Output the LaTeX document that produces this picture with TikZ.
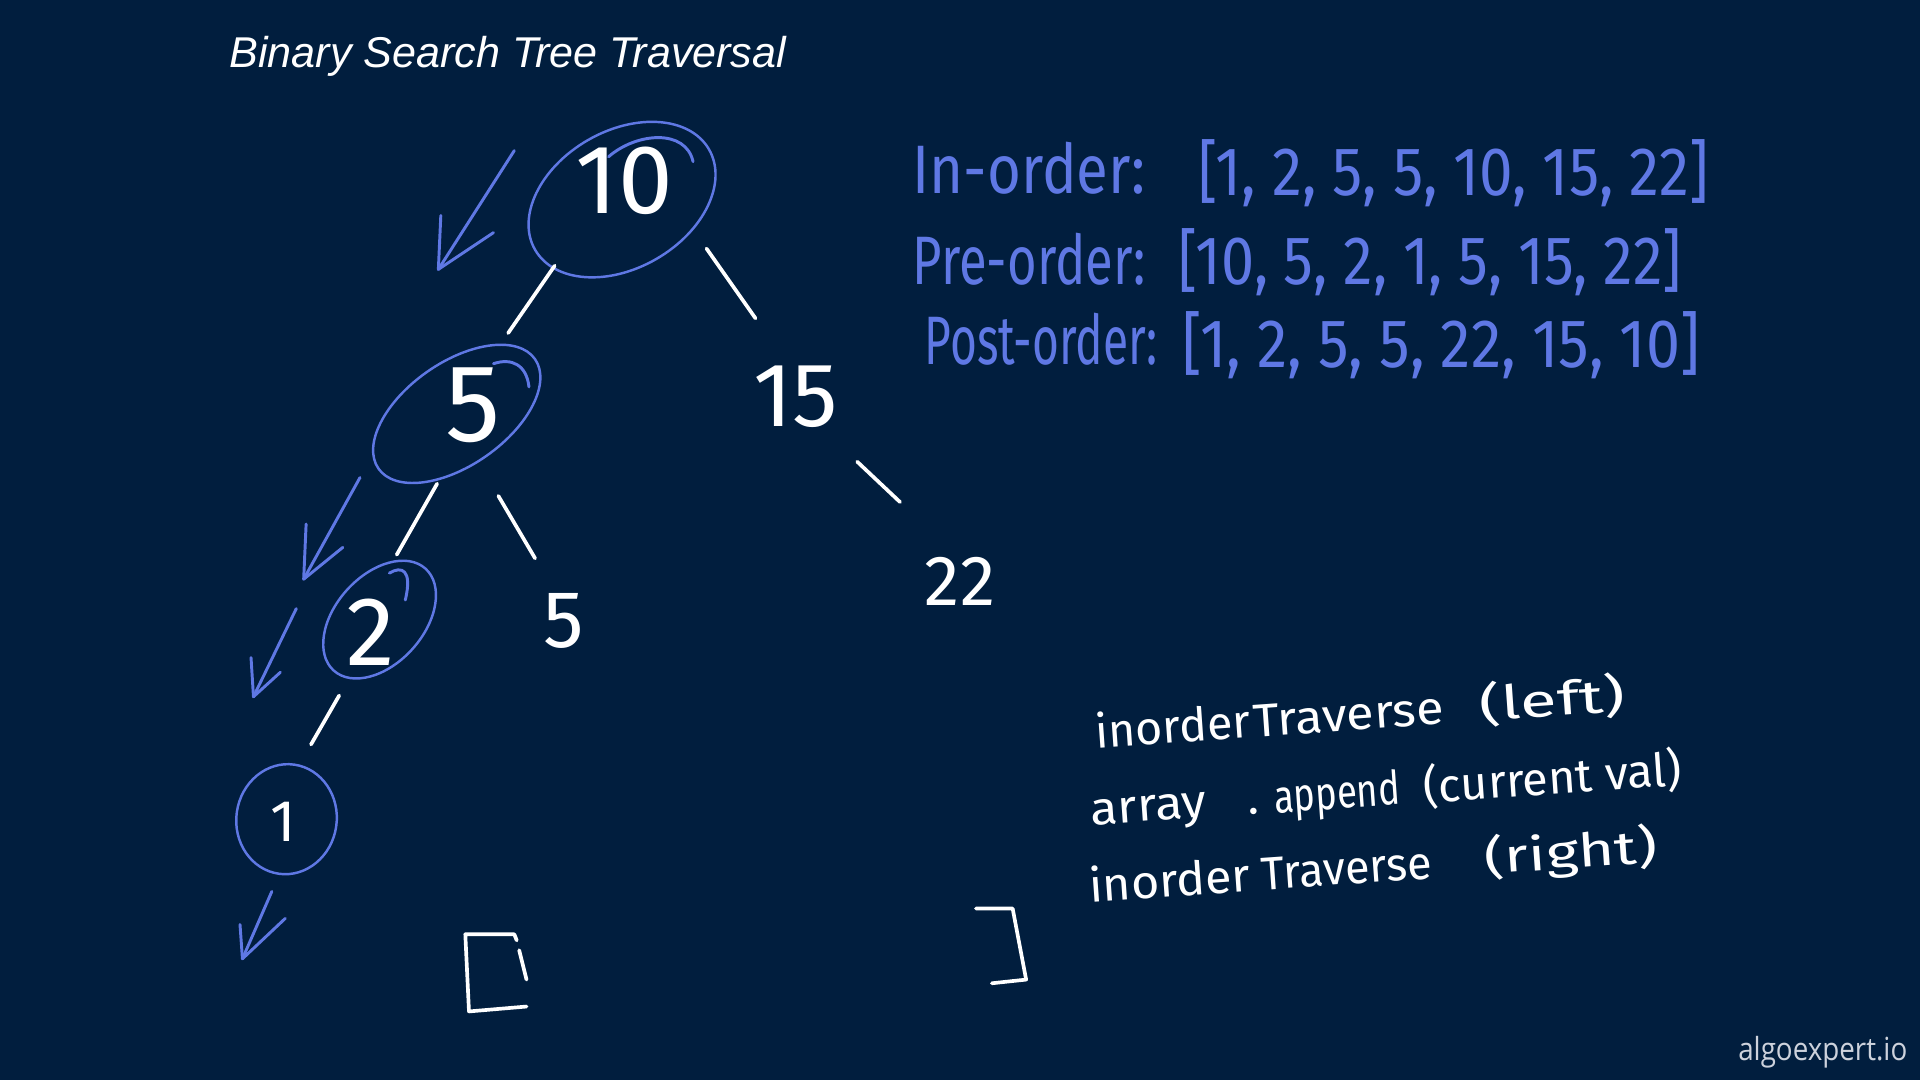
\documentclass[tikz,border=0pt]{standalone}
\usepackage{fontspec}
\usepackage{graphicx}
\usetikzlibrary{calc,shapes.geometric}
\setmainfont{Liberation Sans}
\newfontfamily\titlefont{Liberation Sans}
\newfontfamily\hand{Fira Sans}
\newfontfamily\markfont{Open Sans}
\definecolor{bg}{RGB}{1,30,62}
\definecolor{pen}{RGB}{95,120,228}
\definecolor{mark}{RGB}{205,210,220}
\newcommand\fitw[2]{\resizebox{#1}{\height}{#2}}
\tikzset{
  ring/.style={draw=pen, line width=1pt, ellipse, inner sep=0pt},
  digit/.style={text=white, inner sep=0pt, font=\hand},
  edge/.style={draw=white, line width=1.5pt, line cap=round},
  penline/.style={draw=pen, line width=1.2pt, line cap=round, line join=round},
  bluetext/.style={text=pen, inner sep=0pt, anchor=base west, font=\hand\fontsize{28pt}{30pt}\selectfont},
  codetext/.style={text=white, inner sep=0pt, anchor=base west, rotate=4, font=\hand\fontsize{19pt}{21pt}\selectfont},
  bracket/.style={draw=white, line width=1.5pt, line cap=round, line join=round}
}
\begin{document}
\begin{tikzpicture}[x=0.5pt,y=-0.5pt]
\fill[bg] (0,0) rectangle (1568,882);
\useasboundingbox (0,0) rectangle (1568,882);

% title
\node[anchor=base west, inner sep=0pt, text=white, font=\titlefont\itshape\fontsize{17.6pt}{20pt}\selectfont] (title) at (187,55) {Binary Search Tree Traversal};

% tree rings
\node[ring, minimum width=82pt, minimum height=56pt, rotate=30] (n10) at (508,163) {};
\node[ring, minimum width=78pt, minimum height=42pt, rotate=35] (n5) at (373,338) {};
\node[ring, minimum width=56pt, minimum height=36pt, rotate=48] (n2) at (310,506) {};
\node[ring, minimum width=41pt, minimum height=45pt, rotate=-8] (n1) at (234,669) {};

% pen overshoots
\draw[penline] (497,128) .. controls (520,108) and (560,105) .. (566,132);
\draw[penline] (403,297) .. controls (418,292) and (430,298) .. (432,316);
\draw[penline] (318,468) .. controls (328,462) and (337,465) .. (331,490);

% digits
\node[digit, font=\hand\fontsize{40pt}{40pt}\selectfont] (t10) at (510,148) {10};
\node[digit, font=\hand\fontsize{45pt}{45pt}\selectfont] (t5) at (386,331) {5};
\node[digit, font=\hand\fontsize{40pt}{40pt}\selectfont] (t2) at (303,516) {2};
\node[digit, font=\hand\fontsize{24pt}{24pt}\selectfont] (t1) at (231,671) {1};
\node[digit, font=\hand\fontsize{37pt}{37pt}\selectfont] (n15) at (650,324) {15};
\node[digit, font=\hand\fontsize{33pt}{33pt}\selectfont] (n5b) at (460,507) {5};
\node[digit, font=\hand\fontsize{29pt}{29pt}\selectfont] (n22) at (784,475) {22};

% edges
\draw[edge] ($(n10)+(-55,54)$) -- ($(n5)+(42,-66)$);
\draw[edge] ($(n10)+(69,40)$) -- ($(n15)+(-33,-64)$);
\draw[edge] ($(n5)+(-16,57)$) -- ($(n2)+(14,-53)$);
\draw[edge] ($(n5)+(34,67)$) -- ($(n5b)+(-23,-51)$);
\draw[edge] ($(n15)+(50,53)$) -- ($(n22)+(-49,-65)$);
\draw[edge] ($(n2)+(-33,62)$) -- ($(n1)+(20,-61)$);

% traversal arrows
\draw[penline] (420,123) -- (358,220);
\draw[penline] (360,176) -- (358,220) -- (403,190);
\draw[penline] (294,390) -- (248,473);
\draw[penline] (250,428) -- (248,473) -- (280,447);
\draw[penline] (242,497) -- (207,569);
\draw[penline] (205,537) -- (207,569) -- (229,549);
\draw[penline] (222,728) -- (198,783);
\draw[penline] (196,755) -- (198,783) -- (233,750);

% result brackets
\draw[bracket] (422,768) -- (420,763) -- (380,763) -- (383,826) -- (430,822);
\draw[bracket] (424,776) -- (430,800);
\draw[bracket] (797,742) -- (827,742) -- (838,800) -- (810,803);

% traversal orders
\node[bluetext] (lin) at (745,158) {\fitw{95pt}{In-order:}};
\node[bluetext] (vin) at (978,160) {\fitw{208.5pt}{[1, 2, 5, 5, 10, 15, 22]}};
\node[bluetext] (lpre) at (745,232) {\fitw{95pt}{Pre-order:}};
\node[bluetext] (vpre) at (962,232) {\fitw{205.5pt}{[10, 5, 2, 1, 5, 15, 22]}};
\node[bluetext] (lpost) at (755,298) {\fitw{95pt}{Post-order:}};
\node[bluetext] (vpost) at (965,300) {\fitw{211.5pt}{[1, 2, 5, 5, 22, 15, 10]}};

% pseudo code
\node[codetext] (c1a) at (895,611) {\fitw{63.5pt}{inorder}};
\node[codetext] (c1b) at (1024,602) {\fitw{78pt}{Traverse}};
\node[codetext] (c1c) at (1209,589) {\fitw{59.5pt}{(left)}};
\node[codetext] (c2a) at (891,674) {\fitw{47.5pt}{array}};
\node[codetext] (c2b) at (1019,665) {.};
\node[codetext] (c2c) at (1041,664) {\fitw{51.5pt}{append}};
\node[codetext] (c2d) at (1163,656) {\fitw{105.5pt}{(current val)}};
\node[codetext] (c3a) at (890,737) {\fitw{66pt}{inorder}};
\node[codetext] (c3b) at (1031,727) {\fitw{69.5pt}{Traverse}};
\node[codetext] (c3c) at (1213,714) {\fitw{70.5pt}{(right)}};

% watermark
\node[anchor=base east, inner sep=0pt, text=mark, font=\markfont\fontsize{13pt}{15pt}\selectfont] (wm) at (1558,866) {\fitw{69pt}{algoexpert.io}};
\end{tikzpicture}
\end{document}
